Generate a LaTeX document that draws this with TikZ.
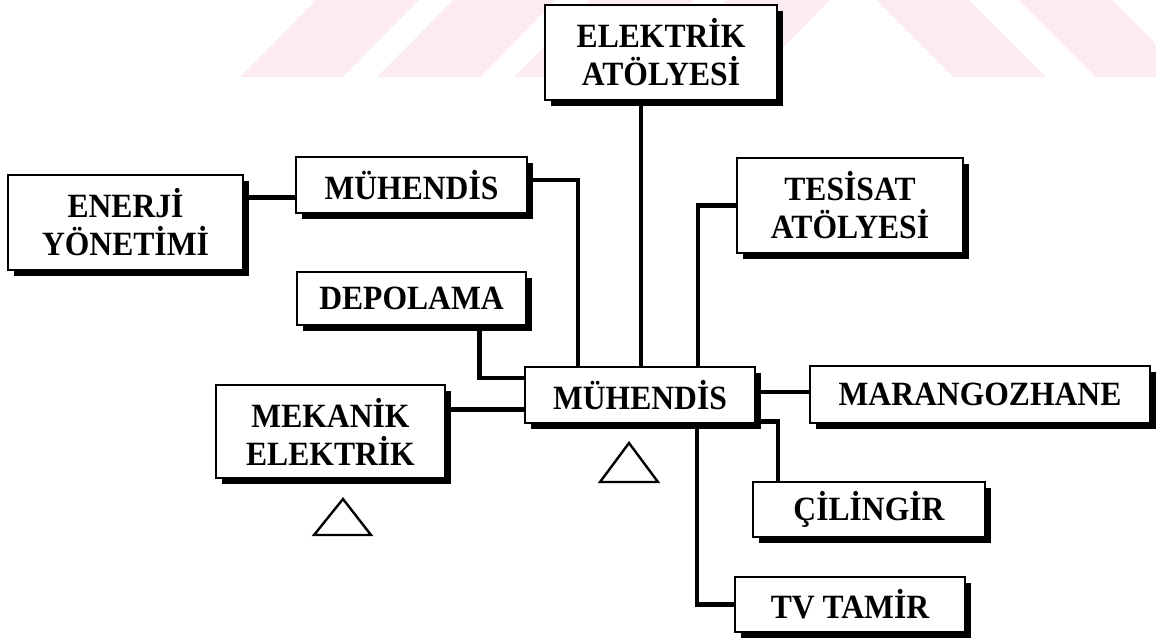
\documentclass[tikz,border=0pt]{standalone}
\usepackage{fontspec}
\setmainfont[FakeStretch=0.93]{Liberation Serif}
\usetikzlibrary{shadows}
\definecolor{wmpink}{RGB}{252,236,240}
\begin{document}
\begin{tikzpicture}[x=1pt,y=-1pt,
  box/.style={draw=black, line width=2.8pt, fill=white, inner sep=0pt, align=center,
    font=\fontsize{34}{38}\selectfont\bfseries,
    drop shadow={shadow xshift=5.5pt, shadow yshift=-5.5pt, fill=black, opacity=1}},
  link/.style={line width=4.4pt},
  tri/.style={line width=2.4pt, line join=miter}]
\useasboundingbox (0,0) rectangle (1156,641);

% light watermark stripes along the top edge
\begin{scope}
  \clip (0,0) rectangle (1156,77);
  \foreach \i in {0,1,2,3}
    \fill[wmpink] ({240+137*\i},77) -- ({343+137*\i},77) -- ({419+137*\i},0) -- ({316+137*\i},0) -- cycle;
  \foreach \i in {0,1}
    \fill[wmpink] ({876+143*\i},0) -- ({969+143*\i},0) -- ({1046+143*\i},77) -- ({953+143*\i},77) -- cycle;
\end{scope}

% units
\node[box, minimum width=232, minimum height=95] (elek) at (661,52.5) {ELEKTRİK\\ATÖLYESİ};
\node[box, minimum width=226, minimum height=95] (tes)  at (850,205.5) {TESİSAT\\ATÖLYESİ};
\node[box, minimum width=231, minimum height=56] (muhA) at (411.5,185) {MÜHENDİS};
\node[box, minimum width=235, minimum height=95] (ener) at (125.5,222.5) {ENERJİ\\YÖNETİMİ};
\node[box, minimum width=229, minimum height=53] (depo) at (411.5,298.5) {DEPOLAMA};
\node[box, minimum width=230, minimum height=56] (muh)  at (640,395) {MÜHENDİS};
\node[box, minimum width=229, minimum height=93] (mek)  at (330.5,431.5) {MEKANİK\\ELEKTRİK};
\node[box, minimum width=340, minimum height=57] (mar)  at (980,394.5) {MARANGOZHANE};
\node[box, minimum width=232, minimum height=55] (cil)  at (869,509.5) {ÇİLİNGİR};
\node[box, minimum width=230, minimum height=55] (tv)   at (850,604.5) {TV TAMİR};

% connectors
\draw[link] ([xshift=1pt]muh.north) -- ([xshift=1pt]muh.north |- elek.south);
\draw[link] (tes.west) -| ([xshift=58pt]muh.north);
\draw[link] ([yshift=5pt]muhA.east) -| ([xshift=-62pt]muh.north);
\draw[link] ([yshift=25pt]ener.east) -- ([yshift=25pt]ener.east -| muhA.west);
\draw[link] ([xshift=68pt]depo.south) |- ([yshift=17pt]muh.west);
\draw[link] ([yshift=22pt]mek.east) -- ([yshift=22pt]mek.east -| muh.west);
\draw[link] ([yshift=3pt]muh.east) -- ([yshift=3pt]muh.east -| mar.west);
\draw[link] ([yshift=3pt]muh.south east) -| ([xshift=-91pt]cil.north);
\draw[link] ([xshift=57pt]muh.south) |- (tv.west);

% triangle marks
\draw[tri] (629,443) -- (658,482) -- (600,482) -- cycle;
\draw[tri] (343,499) -- (371,535) -- (314,535) -- cycle;
\end{tikzpicture}
\end{document}
